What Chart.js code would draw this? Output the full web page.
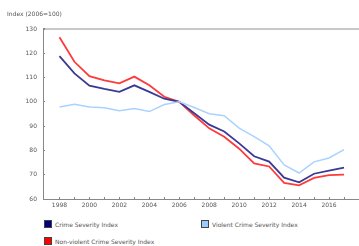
<!DOCTYPE html>
<html>
<head>
<meta charset="utf-8">
<script src="https://cdn.jsdelivr.net/npm/chart.js@4"></script>
<style>
	html, body { margin: 0; padding: 0; background: #fff; }
	#wrap { position: relative; width: 359px; height: 246px; font-family: "DejaVu Sans", sans-serif; color: #555; }
	#chart { position: absolute; left: 0; top: 0; }
	.ytitle { position: absolute; left: 7px; top: 10px; font-size: 6px; }
	.leg { position: absolute; font-size: 6px; line-height: 8px; white-space: nowrap; }
	.leg i { display: inline-block; width: 6px; height: 6px; border: 1px solid #444; vertical-align: -1px; margin-right: 3px; }
</style>
</head>
<body>
<div id="wrap">
	<canvas id="chart" width="359" height="218"></canvas>
	<div class="ytitle">Index (2006=100)</div>
	<div class="leg" style="left:44px; top:220px;"><i style="background:#000080"></i>Crime Severity Index</div>
	<div class="leg" style="left:201px; top:220px;"><i style="background:#99ccff"></i>Violent Crime Severity Index</div>
	<div class="leg" style="left:44px; top:237px;"><i style="background:#ff0000"></i>Non-violent Crime Severity Index</div>
</div>
<script>
	const years = [1998, 1999, 2000, 2001, 2002, 2003, 2004, 2005, 2006, 2007,
		2008, 2009, 2010, 2011, 2012, 2013, 2014, 2015, 2016, 2017];
	const crimeSeverity = [118.8, 111.7, 106.7, 105.3, 104.1, 106.8, 104.1, 101.3, 100.0, 95.3,
		90.6, 87.8, 82.9, 77.6, 75.4, 68.8, 66.9, 70.4, 71.7, 72.9];
	const violentSeverity = [97.9, 99.0, 97.9, 97.6, 96.3, 97.3, 96.0, 98.9, 100.0, 97.7,
		95.1, 94.3, 89.2, 85.7, 81.9, 74.0, 70.7, 75.3, 76.9, 80.3];
	const nonViolentSeverity = [126.6, 116.5, 110.6, 108.8, 107.6, 110.4, 106.8, 102.1, 100.0, 94.4,
		89.1, 85.6, 80.7, 74.7, 73.4, 66.6, 65.6, 68.7, 69.8, 70.0];
	const yTicks = [60, 70, 80, 90, 100, 110, 120, 130];
	const xLabels = [1998, 2000, 2002, 2004, 2006, 2008, 2010, 2012, 2014, 2016];

	const toPoints = vals => vals.map((v, i) => ({ x: years[i], y: v }));

	// chart element
	let chartEle = document.getElementById('chart').getContext('2d');

	const data = {
		datasets: [
		{
			label: 'Violent Crime Severity Index',
			data: toPoints(violentSeverity),
			borderColor: '#aad2ff',
			borderWidth: 1.5
		},
		{
			label: 'Crime Severity Index',
			data: toPoints(crimeSeverity),
			borderColor: '#3a3a94',
			borderWidth: 1.8
		},
		{
			label: 'Non-violent Crime Severity Index',
			data: toPoints(nonViolentSeverity),
			borderColor: '#ff3a3a',
			borderWidth: 1.8
		}]
	};

	const tickFont = { family: 'DejaVu Sans', size: 6 };

	const options = {
		responsive: false,
		animation: false,
		elements: { point: { radius: 0 }, line: { tension: 0 } },
		layout: { padding: { top: 29, left: 0, right: 0, bottom: 0 } },
		plugins: { legend: { display: false }, tooltip: { enabled: false } },
		scales: {
			x: {
				type: 'linear',
				min: 1996.9,
				max: 2018,
				afterBuildTicks: s => { s.ticks = years.map(v => ({ value: v })); },
				afterFit: s => { s.height = 19; },
				ticks: {
					autoSkip: false,
					maxRotation: 0,
					font: tickFont,
					color: '#555',
					padding: 5,
					callback: v => xLabels.includes(v) ? String(v) : ''
				},
				grid: { drawOnChartArea: false, tickLength: -2, tickColor: '#888' },
				border: { color: '#888', width: 1 }
			},
			y: {
				min: 60,
				max: 130,
				afterBuildTicks: s => { s.ticks = yTicks.map(v => ({ value: v })); },
				afterFit: s => { s.width = 43; },
				ticks: { font: tickFont, color: '#555', padding: 8 },
				grid: {
					tickLength: -2,
					tickColor: '#888',
					color: ctx => ctx.tick && ctx.tick.value === 130 ? '#c8c8c8' : 'rgba(0,0,0,0)',
					lineWidth: ctx => ctx.tick && ctx.tick.value === 130 ? 2 : 1
				},
				border: { color: '#888', width: 1 }
			}
		}
	};

	let myChart = new Chart(chartEle, {
		type: 'line',
		data: data,
		options: options
	});
</script>
</body>
</html>
